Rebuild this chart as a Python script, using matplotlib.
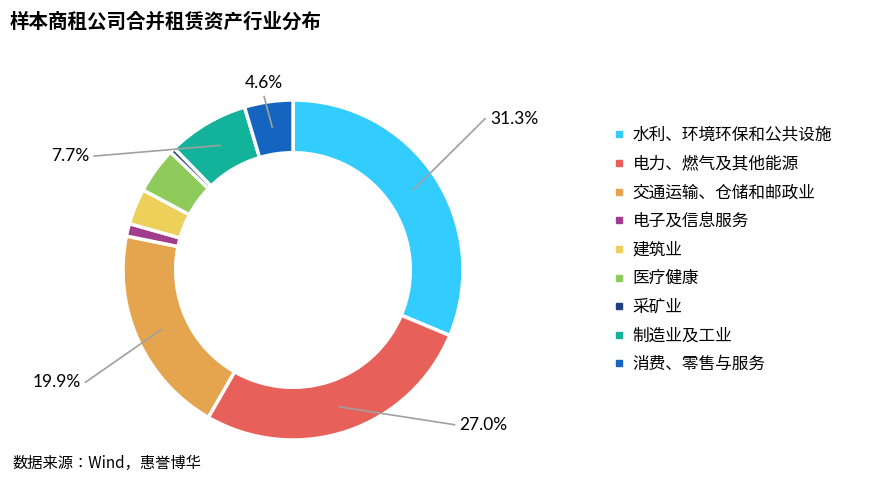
import numpy as np
import matplotlib.pyplot as plt
from matplotlib.lines import Line2D
from matplotlib import font_manager

cjk = [f.name for f in font_manager.fontManager.ttflist if 'CJK' in f.name]
cjk_name = 'Noto Sans CJK SC' if 'Noto Sans CJK SC' in cjk else (cjk[0] if cjk else 'DejaVu Sans')
plt.rcParams['font.family'] = [cjk_name, 'DejaVu Sans']

categories = ['水利、环境环保和公共设施', '电力、燃气及其他能源', '交通运输、仓储和邮政业',
              '电子及信息服务', '建筑业', '医疗健康', '采矿业', '制造业及工业', '消费、零售与服务']
values = [31.3, 27.0, 19.9, 1.2, 3.4, 4.4, 0.5, 7.7, 4.6]
colors = ['#33CCFF', '#E8605A', '#E5A44E', '#A23C8C', '#EDD05A', '#8FCB5A',
          '#1F3F7F', '#12B39A', '#1565C0']
# labelled slices: index -> label position (data coords)
label_pos = {0: (1.16, 0.89), 1: (0.98, -0.91), 2: (-1.25, -0.66), 7: (-1.2, 0.67), 8: (-0.17, 1.1)}

fig = plt.figure(figsize=(8.81, 4.92), dpi=100)
ax = fig.add_axes([123 / 881, 52 / 492, 340 / 881, 340 / 492])
wedges, _ = ax.pie(values, colors=colors, startangle=90, counterclock=False, radius=1,
                   wedgeprops=dict(width=0.31, edgecolor='white', linewidth=2.5))
ax.set_xlim(-1, 1)
ax.set_ylim(-1, 1)
ax.axis('off')

for i, (lx, ly) in label_pos.items():
    w = wedges[i]
    ang = np.deg2rad((w.theta1 + w.theta2) / 2)
    px, py = 0.85 * np.cos(ang), 0.85 * np.sin(ang)
    ha = 'left' if lx > 0.3 else ('right' if lx < -0.3 else 'center')
    tx = lx - 0.03 if ha == 'left' else (lx + 0.03 if ha == 'right' else lx)
    ty = ly - 0.08 if ha == 'center' else ly
    ax.annotate(f'{values[i]:.1f}%', xy=(px, py), xytext=(lx, ly), ha=ha, va='center',
                fontsize=12.5, fontfamily='Lato', annotation_clip=False)
    ax.plot([px, tx], [py, ty], color='#A0A0A0', lw=1.2, clip_on=False)

handles = [Line2D([], [], marker='s', ls='', color=c, markersize=5) for c in colors]
fig.legend(handles, categories, loc='upper left', bbox_to_anchor=(596 / 881, 1 - 112 / 492),
           frameon=False, fontsize=12, labelspacing=0.7, handletextpad=0.3, handlelength=1)

fig.text(10 / 881, 1 - 22 / 492, '样本商租公司合并租赁资产行业分布', fontsize=14, fontweight='bold',
         va='center')
fig.text(12 / 881, 1 - 463 / 492, '数据来源：Wind，惠誉博华', fontsize=11, va='center')

fig.savefig('out.png', dpi=100)
